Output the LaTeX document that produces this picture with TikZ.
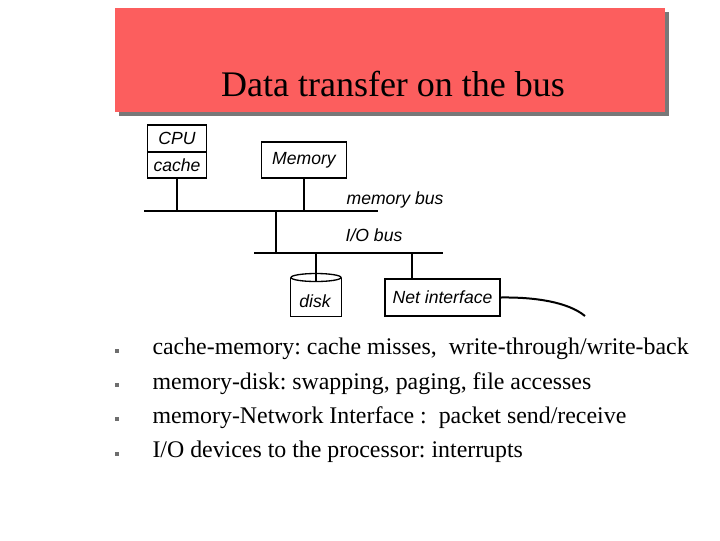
\documentclass[tikz,border=0pt]{standalone}
\usepackage{fontspec}
\setmainfont{Liberation Serif}
\setsansfont{Liberation Sans}
\frenchspacing

\tikzset{every picture/.style={line width=0.75pt}}
\tikzset{
  unitbox/.style={draw, line width=1pt, inner sep=0pt, font=\sffamily\itshape\fontsize{13.2}{15}\selectfont},
  buslabel/.style={inner sep=0.75pt, font=\sffamily\itshape\fontsize{13.2}{15}\selectfont},
  bullettext/.style={anchor=west, inner sep=0.75pt, font=\fontsize{17.9}{21}\selectfont},
  bulletmark/.style={fill={rgb, 255:red, 110; green, 110; blue, 110 }, minimum size=2.5pt, inner sep=0pt}
}

\begin{document}
\begin{tikzpicture}[x=0.75pt,y=0.75pt,yscale=-1,xscale=1]
\path[use as bounding box] (0,0) rectangle (720,540);

%Shape: Rectangle [id:title shadow]
\fill [color={rgb, 255:red, 120; green, 120; blue, 120 }] (119,12) rectangle (669,116) ;
%Shape: Rectangle [id:title box]
\fill [color={rgb, 255:red, 252; green, 94; blue, 94 }] (115,8) rectangle (665,112) ;
% Text Node
\node (title) at (393,84) [inner sep=0.75pt, font=\fontsize{27}{31}\selectfont] {Data transfer on the bus};

% Boxes
\node (cpu) at (177,138.5) [unitbox, minimum width=44.25pt, minimum height=20.25pt] {CPU};
\node (cache) at (177,165) [unitbox, minimum width=44.25pt, minimum height=19.5pt] {cache};
\node (mem) at (304,160) [unitbox, minimum width=63.75pt, minimum height=27pt] {Memory};
\node (disk) at (316,297) [buslabel, minimum width=37.5pt, minimum height=28.5pt] {};
\node (net) at (442.5,297.5) [unitbox, minimum width=86.25pt, minimum height=27.75pt] {Net interface};
\node (disklabel) at (315,301) [buslabel] {disk};

%Shape: Can [id:disk outline]
\draw [line width=1pt] (disk.north west) -- (disk.south west) -- (disk.south east) -- (disk.north east) ;
\draw [line width=1pt] (disk.north) ellipse (25 and 4) ;

% Bus coordinates
\coordinate (mbl) at (144,211);
\coordinate (mbr) at (378,211);
\coordinate (iol) at (254,253);
\coordinate (ior) at (443,253);
\coordinate (tap) at (276,211);
\coordinate (nettap) at (412,253);
\coordinate (cable) at (585,316);

%Straight Lines [id:memory bus]
\draw [line width=1.5]    (mbl) -- (mbr) ;
%Straight Lines [id:io bus]
\draw [line width=1.5]    (iol) -- (ior) ;
%Straight Lines [id:cpu drop]
\draw [line width=1.5]    (cache.south) -- (cache.south |- mbl) ;
%Straight Lines [id:memory drop]
\draw [line width=1.5]    (mem.south) -- (mem.south |- mbl) ;
%Straight Lines [id:bridge]
\draw [line width=1.5]    (tap) -- (tap |- iol) ;
%Straight Lines [id:disk drop]
\draw [line width=1.5]    (disk.north |- iol) -- ([yshift=3pt]disk.north) ;
%Straight Lines [id:net drop]
\draw [line width=1.5]    (nettap) -- (nettap |- net.north) ;
%Curve Lines [id:cable]
\draw [line width=1.5]    (net.east) .. controls (535,297) and (568,302) .. (cable) ;

% Text Node
\node (mblabel) at (395,200) [buslabel] {memory bus};
% Text Node
\node (iolabel) at (374,235) [buslabel] {I/O bus};

% Bullets
\node (m1) at (117,351) [bulletmark] {};
\node (m2) at (117,385) [bulletmark] {};
\node (m3) at (117,419) [bulletmark] {};
\node (m4) at (117,454) [bulletmark] {};
\node (b1) at (151,349) [bullettext] {cache-memory: cache misses,\ \ write-through/write-back};
\node (b2) at (151,384) [bullettext] {memory-disk: swapping, paging, file accesses};
\node (b3) at (151,418) [bullettext] {memory-Network Interface :\ \ packet send/receive};
\node (b4) at (151,452) [bullettext] {I/O devices to the processor: interrupts};

\end{tikzpicture}
\end{document}
